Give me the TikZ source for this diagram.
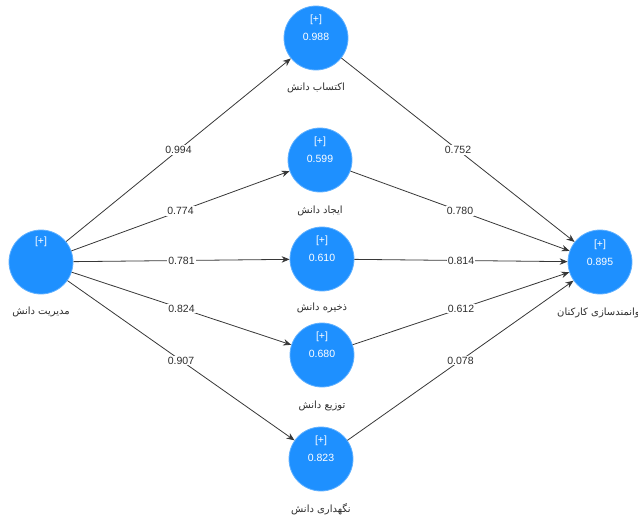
\documentclass[tikz,border=0pt]{standalone}
\usepackage{fontspec}
\setmainfont{Liberation Sans}
\newfontfamily\arabicfont[Script=Arabic]{DejaVu Sans}
\TeXXeTstate=1
\usetikzlibrary{arrows.meta}
\definecolor{nodeblue}{RGB}{30,144,255}
\definecolor{linegray}{RGB}{55,55,55}
\definecolor{textgray}{RGB}{45,45,45}
\tikzset{
  lv/.style={circle, fill=nodeblue, draw=nodeblue!70!white, line width=0.8pt, minimum size=64pt, inner sep=0pt},
  intext/.style={text=white, font=\fontsize{10.5}{12}\selectfont, inner sep=0pt},
  plabel/.style={text=textgray, font=\fontsize{10}{12}\arabicfont, inner sep=0pt},
  conn/.style={draw=linegray, line width=0.8pt, -{Stealth[length=8pt,width=6.5pt]}},
  elabel/.style={fill=white, text=textgray, font=\fontsize{10.5}{12}\selectfont, inner sep=1.2pt, pos=0.5}
}
\begin{document}
\begin{tikzpicture}[x=1pt,y=-1pt]
\useasboundingbox (0,0) rectangle (638,517);
% latent variables
\node[lv] (km) at (41,262) {};
\node[lv] (acq) at (316,38) {};
\node[lv] (cre) at (320,160) {};
\node[lv] (sto) at (322,259) {};
\node[lv] (dis) at (322,355) {};
\node[lv] (mai) at (321,459) {};
\node[lv] (emp) at (600,262) {};
% inner texts
\node[intext] (kmp) at (41,242) {[+]};
\node[intext] (acqp) at (316,20) {[+]};
\node[intext] (acqv) at (316,37) {0.988};
\node[intext] (crep) at (320,142) {[+]};
\node[intext] (crev) at (320,159) {0.599};
\node[intext] (stop) at (322,241) {[+]};
\node[intext] (stov) at (322,258) {0.610};
\node[intext] (disp) at (322,337) {[+]};
\node[intext] (disv) at (322,354) {0.680};
\node[intext] (maip) at (321,441) {[+]};
\node[intext] (maiv) at (321,458) {0.823};
\node[intext] (empp) at (600,245) {[+]};
\node[intext] (empv) at (600,262) {0.895};
% names
\node[plabel] (kml) at (41,312) {\beginR مدیریت دانش\endR};
\node[plabel] (acql) at (316,88) {\beginR اکتساب دانش\endR};
\node[plabel] (crel) at (320,211) {\beginR ایجاد دانش\endR};
\node[plabel] (stol) at (322,308) {\beginR ذخیره دانش\endR};
\node[plabel] (disl) at (322,406) {\beginR توزیع دانش\endR};
\node[plabel] (mail) at (321,509) {\beginR نگهداری دانش\endR};
\node[plabel] (empl) at (600,313) {\beginR توانمندسازی کارکنان\endR};
% connectors
\draw[conn] (km) -- node[elabel] (e1) {0.994} (acq);
\draw[conn] (km) -- node[elabel] (e2) {0.774} (cre);
\draw[conn] (km) -- node[elabel] (e3) {0.781} (sto);
\draw[conn] (km) -- node[elabel] (e4) {0.824} (dis);
\draw[conn] (km) -- node[elabel] (e5) {0.907} (mai);
\draw[conn] (acq) -- node[elabel] (f1) {0.752} (emp);
\draw[conn] (cre) -- node[elabel] (f2) {0.780} (emp);
\draw[conn] (sto) -- node[elabel] (f3) {0.814} (emp);
\draw[conn] (dis) -- node[elabel] (f4) {0.612} (emp);
\draw[conn] (mai) -- node[elabel] (f5) {0.078} (emp);
\end{tikzpicture}
\end{document}
